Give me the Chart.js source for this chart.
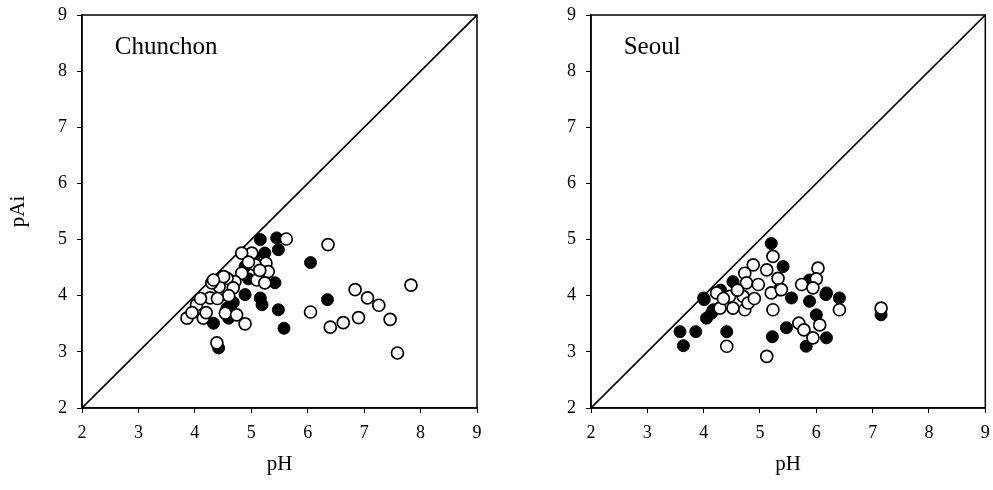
<!DOCTYPE html>
<html lang="en">
<head>
    <meta charset="UTF-8">
    <title>pAi vs pH</title>
    <script src="https://cdn.jsdelivr.net/npm/chart.js"></script>
    <style>
        body { margin: 0; background: #fff; }
        #wrap { position: relative; width: 993px; height: 490px; }
        canvas { position: absolute; top: 0; }
        #left-chart { left: 0; }
        #right-chart { left: 490px; }
    </style>
</head>
<body>
    <div id="wrap">
        <canvas id="left-chart" width="490" height="490"></canvas>
        <canvas id="right-chart" width="503" height="490"></canvas>
    </div>

    <script>
        const axisTicks = [2, 3, 4, 5, 6, 7, 8, 9];
        const oneToOne = [{ x: 2, y: 2 }, { x: 9, y: 9 }];

        // Chunchon: [pH, pAi]
        const chunchonOpen = [
            [5.62, 5.01], [6.36, 4.91], [7.83, 4.19], [6.84, 4.11], [7.06, 3.96], [7.26, 3.83],
            [6.05, 3.71], [6.40, 3.44], [6.63, 3.52], [6.90, 3.61], [7.46, 3.58], [7.59, 2.98],
            [5.01, 4.76], [4.83, 4.76], [5.26, 4.58], [5.07, 4.55], [5.30, 4.43], [4.83, 4.40],
            [5.10, 4.28], [5.24, 4.23], [4.71, 4.25], [4.57, 4.31], [4.43, 4.16], [4.30, 4.23],
            [4.27, 3.96], [4.03, 3.84], [3.86, 3.60], [4.15, 3.60], [4.54, 3.69], [4.74, 3.66],
            [4.89, 3.50], [4.39, 3.16], [4.68, 4.14], [4.51, 4.34], [4.33, 4.28], [4.20, 3.70],
            [4.10, 3.95], [3.95, 3.70], [4.60, 4.00], [4.95, 4.60], [5.15, 4.45], [4.40, 3.95]
        ];
        const chunchonFilled = [
            [5.45, 5.03], [5.16, 5.00], [5.48, 4.82], [6.05, 4.59], [6.35, 3.93], [5.24, 4.76],
            [4.89, 4.52], [5.42, 4.23], [4.89, 4.02], [5.16, 3.96], [5.19, 3.84], [5.48, 3.75],
            [5.58, 3.42], [4.57, 3.78], [4.33, 3.51], [4.42, 3.07], [4.68, 3.88], [5.05, 4.70],
            [4.95, 4.30], [4.60, 3.60]
        ];

        // Seoul: [pH, pAi]
        const seoulOpen = [
            [5.23, 4.70], [4.88, 4.55], [5.12, 4.46], [4.73, 4.40], [4.76, 4.23], [4.97, 4.20],
            [4.23, 4.05], [4.46, 3.99], [4.70, 3.99], [4.29, 3.78], [4.52, 3.78], [4.73, 3.75],
            [4.79, 3.87], [5.23, 3.75], [5.35, 4.11], [4.41, 3.10], [5.12, 2.92], [5.32, 4.31],
            [6.03, 4.49], [6.00, 4.30], [5.74, 4.20], [5.94, 4.14], [5.20, 4.05], [5.38, 4.11],
            [6.41, 3.75], [6.06, 3.48], [5.69, 3.51], [5.78, 3.39], [5.94, 3.25], [7.15, 3.78],
            [4.35, 3.95], [4.60, 4.10], [4.90, 3.95]
        ];
        const seoulFilled = [
            [5.20, 4.93], [5.41, 4.52], [4.52, 4.25], [4.00, 3.96], [4.05, 3.60], [4.17, 3.75],
            [4.41, 3.36], [5.22, 3.27], [5.47, 3.43], [3.58, 3.36], [3.86, 3.36], [3.64, 3.11],
            [4.01, 3.93], [4.14, 3.69], [5.56, 3.96], [5.88, 3.90], [6.17, 4.02], [6.41, 3.96],
            [6.00, 3.66], [5.82, 3.10], [6.18, 3.25], [7.15, 3.66], [5.88, 4.28], [6.18, 4.05],
            [4.30, 4.10]
        ];

        const toPoints = arr => arr.map(p => ({ x: p[0], y: p[1] }));

        const framePlugin = {
            id: 'frame',
            afterDatasetsDraw(chart, args, opts) {
                const { ctx, chartArea: a, scales } = chart;
                ctx.save();
                ctx.strokeStyle = '#000';
                ctx.lineWidth = 1.5;
                ctx.strokeRect(a.left, a.top, a.right - a.left, a.bottom - a.top);
                ctx.fillStyle = '#000';
                ctx.font = '25px "Liberation Serif"';
                ctx.textBaseline = 'middle';
                ctx.fillText(opts.label, scales.x.getPixelForValue(2.58), scales.y.getPixelForValue(8.42));
                ctx.restore();
            }
        };

        function makeChart(id, label, open, filled, yWidth, showYTitle, rightPad) {
            const tickFont = { family: 'Liberation Serif', size: 18 };
            return new Chart(document.getElementById(id), {
                type: 'scatter',
                data: {
                    datasets: [
                        {
                            data: toPoints(open),
                            pointRadius: 6,
                            pointBackgroundColor: '#fff',
                            pointBorderColor: '#000',
                            pointBorderWidth: 1.7,
                            order: 0
                        },
                        {
                            data: toPoints(filled),
                            pointRadius: 6,
                            pointBackgroundColor: '#000',
                            pointBorderColor: '#000',
                            pointBorderWidth: 1,
                            order: 1
                        },
                        {
                            type: 'line',
                            data: oneToOne,
                            borderColor: '#000',
                            borderWidth: 1.6,
                            pointRadius: 0,
                            order: 2
                        }
                    ]
                },
                options: {
                    responsive: false,
                    animation: false,
                    layout: { padding: { top: 15, right: rightPad, bottom: 0, left: 0 } },
                    plugins: {
                        legend: { display: false },
                        tooltip: { enabled: false },
                        frame: { label: label }
                    },
                    scales: {
                        x: {
                            min: 2, max: 9,
                            afterBuildTicks: s => { s.ticks = axisTicks.map(v => ({ value: v })); },
                            afterFit: s => {
                                s.height = 82;
                                s.paddingLeft = 0;
                                s.paddingRight = 0;
                            },
                            grid: { drawOnChartArea: false, tickLength: 5, color: '#000' },
                            border: { color: '#000', width: 1.5 },
                            ticks: { color: '#000', font: tickFont, padding: 9, maxRotation: 0 },
                            title: {
                                display: true, text: 'pH', color: '#000',
                                font: { family: 'Liberation Serif', size: 21 },
                                padding: { top: 0, bottom: 13 }
                            }
                        },
                        y: {
                            min: 2, max: 9,
                            afterBuildTicks: s => { s.ticks = axisTicks.map(v => ({ value: v })); },
                            afterFit: s => {
                                s.width = yWidth;
                                s.paddingTop = 0;
                                s.paddingBottom = 0;
                            },
                            grid: { drawOnChartArea: false, tickLength: 5, color: '#000' },
                            border: { color: '#000', width: 1.5 },
                            ticks: { color: '#000', font: tickFont, padding: 10 },
                            title: {
                                display: showYTitle, text: 'pAi', color: '#000',
                                font: { family: 'Liberation Serif', size: 21 },
                                padding: { top: 6, bottom: 0 }
                            }
                        }
                    }
                },
                plugins: [framePlugin]
            });
        }

        makeChart('left-chart', 'Chunchon', chunchonOpen, chunchonFilled, 82, true, 13);
        makeChart('right-chart', 'Seoul', seoulOpen, seoulFilled, 101, false, 7);
    </script>
</body>
</html>
